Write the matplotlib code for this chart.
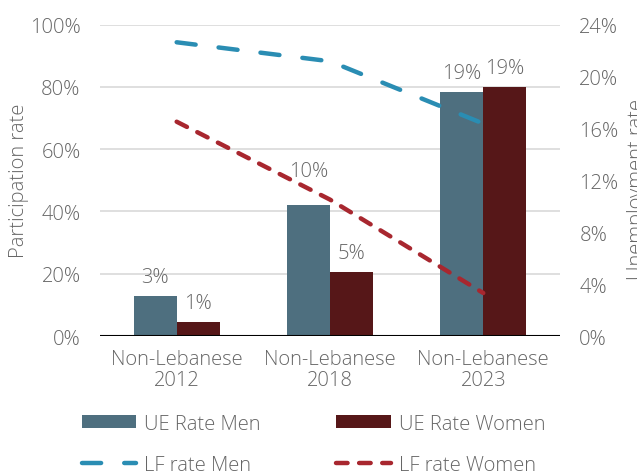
import numpy as np
import matplotlib
matplotlib.use("Agg")
import matplotlib.pyplot as plt
from matplotlib.ticker import PercentFormatter

# data
categories = ["Non-Lebanese\n2012", "Non-Lebanese\n2018", "Non-Lebanese\n2023"]
ue_men = [3.1, 10.1, 18.8]      # unemployment rate, %
ue_women = [1.1, 4.9, 19.2]
ue_men_lbl = ["3%", "10%", "19%"]
ue_women_lbl = ["1%", "5%", "19%"]
lf_men = [94.3, 88.2, 68.2]     # participation rate, %
lf_women = [68.8, 43.8, 13.8]

c_men_bar = "#4E6F7F"
c_women_bar = "#561718"
c_men_line = "#2A8DB3"
c_women_line = "#A8272F"
grey = "#666666"
fs = 14.5

plt.rcParams["font.family"] = ["Open Sans", "DejaVu Sans"]
plt.rcParams["font.weight"] = "light"
plt.rcParams["axes.labelweight"] = "light"
plt.rcParams["font.size"] = fs

fig = plt.figure(figsize=(6.37, 4.77), dpi=100)
ax = fig.add_axes([0.157, 0.2935, 0.722, 0.653])
ax2 = ax.twinx()

x = np.arange(len(categories))
w = 0.28

# bars on the right axis (unemployment)
b1 = ax2.bar(x - w / 2, ue_men, w, color=c_men_bar, label="UE Rate Men", zorder=2)
b2 = ax2.bar(x + w / 2, ue_women, w, color=c_women_bar, label="UE Rate Women", zorder=2)
men_off = [6.5, 17, 6.5]   # the 2018 label sits higher in the original
for r, t, off in zip(b1, ue_men_lbl, men_off):
    ax2.annotate(t, (r.get_x() + r.get_width() / 2, r.get_height()),
                 xytext=(0, off), textcoords="offset points",
                 ha="center", va="bottom", color=grey, fontsize=fs)
for r, t in zip(b2, ue_women_lbl):
    ax2.annotate(t, (r.get_x() + r.get_width() / 2, r.get_height()),
                 xytext=(0, 6.5), textcoords="offset points",
                 ha="center", va="bottom", color=grey, fontsize=fs)

# participation lines, drawn on the twin so they sit above the bars
lm, = ax2.plot(x, np.array(lf_men) * 0.24, color=c_men_line, lw=3.2,
               dashes=(4.3, 5.2), dash_capstyle="round", label="LF rate Men", zorder=3)
lw_, = ax2.plot(x, np.array(lf_women) * 0.24, color=c_women_line, lw=3.2,
                dashes=(2.6, 2.6), dash_capstyle="round", label="LF rate Women", zorder=3)

ax.set_ylim(0, 100)
ax2.set_ylim(0, 24)
ax.set_xlim(-0.5, 2.5)
ax.set_yticks(np.arange(0, 101, 20))
ax2.set_yticks(np.arange(0, 25, 4))
ax.yaxis.set_major_formatter(PercentFormatter(decimals=0))
ax2.yaxis.set_major_formatter(PercentFormatter(decimals=0))
ax.set_xticks(x)
ax.set_xticklabels(categories, color=grey, linespacing=1.1)

ax.grid(axis="y", color="#D9D9D9", lw=1.2, zorder=0)
ax.set_axisbelow(True)
for a in (ax, ax2):
    for s in ("top", "left", "right", "bottom"):
        a.spines[s].set_visible(False)
    a.tick_params(length=0, colors=grey, labelsize=fs)
ax2.axhline(0, color="black", lw=1.5, zorder=5)
ax.tick_params(axis="y", pad=14)
ax2.tick_params(axis="y", pad=14)
ax.tick_params(axis="x", pad=9)

ax.set_ylabel("Participation rate", color=grey, fontsize=fs)
ax.yaxis.set_label_coords(-0.155, 0.5)
# right axis title is clipped by the figure edge in the original
fig.text(627 / 637, 0.602, "Unemployment rate", rotation=90, ha="left",
         va="center", color=grey, fontsize=fs)

fig.legend(handles=[b1, lm, b2, lw_], ncol=2, frameon=False,
           loc="lower left", bbox_to_anchor=(0.1, -0.036),
           handlelength=2.7, handleheight=0.6, handletextpad=0.4,
           columnspacing=3.75, labelspacing=1.05, fontsize=fs, labelcolor=grey)

fig.savefig("out.png", dpi=100)
